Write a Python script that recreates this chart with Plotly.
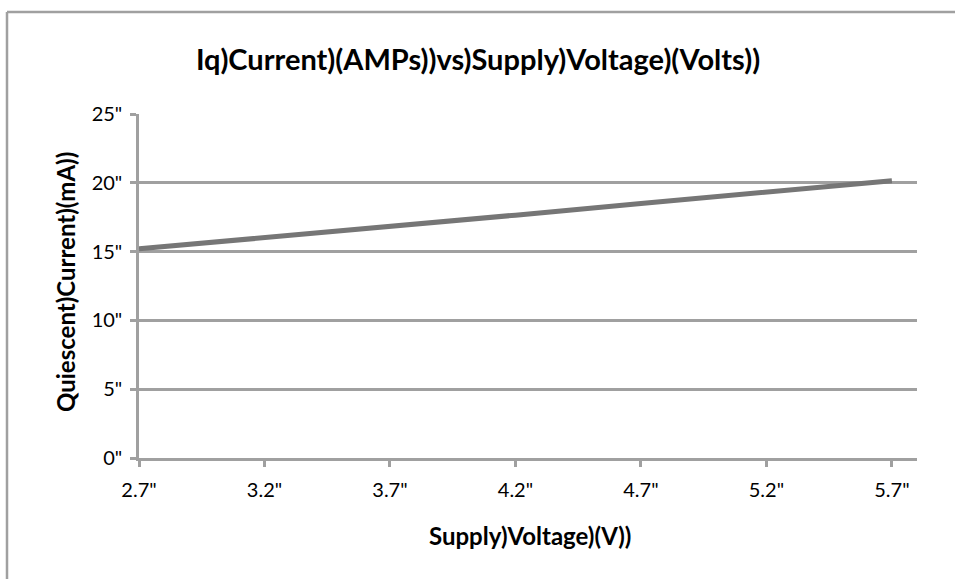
import plotly.graph_objects as go

voltage = [2.7, 3.2, 3.7, 4.2, 4.7, 5.2, 5.7]
current_ma = [15.2, 16.0, 16.85, 17.65, 18.5, 19.3, 20.15]
x_ticks = [2.7, 3.2, 3.7, 4.2, 4.7, 5.2, 5.7]
y_ticks = [0, 5, 10, 15, 20, 25]

title_text = "Iq)Current)(AMPs))vs)Supply)Voltage)(Volts))"
x_title = "Supply)Voltage)(V))"
y_title = "Quiescent)Current)(mA))"

GRID = "#a0a0a0"
FONT = "Lato, 'Open Sans', sans-serif"

W, H = 955, 579
L, R, T, B = 139, 38, 114, 121
PW, PH = W - L - R, H - T - B

fig = go.Figure()
fig.add_trace(go.Scatter(x=voltage, y=current_ma, mode="lines",
                         line=dict(color="#767676", width=5), showlegend=False))

fx = lambda px: (px - L) / PW
fy = lambda py: (H - B - py) / PH

fig.update_layout(
    width=W, height=H,
    margin=dict(l=L, r=R, t=T, b=B),
    paper_bgcolor="white", plot_bgcolor="white",
    font=dict(family=FONT, color="black", size=20),
    title=dict(text=f"<b>{title_text}</b>", x=478 / W, xanchor="center",
               y=1 - 60 / H, yanchor="middle", font=dict(size=29, family=FONT)),
    xaxis=dict(range=[2.7, 5.8], tickvals=x_ticks, ticktext=[f'{v}"' for v in x_ticks],
               showgrid=False, zeroline=False, showline=True, linecolor=GRID, linewidth=2.5,
               ticks="outside", ticklen=6, tickwidth=2.5, tickcolor=GRID,
               ticklabelstandoff=6, tickfont=dict(size=20)),
    yaxis=dict(range=[0, 25], tickvals=y_ticks, ticktext=[f'{v}"' for v in y_ticks],
               showgrid=True, gridcolor=GRID, gridwidth=2.5, zeroline=False,
               showline=True, linecolor=GRID, linewidth=2.5,
               ticks="outside", ticklen=6, tickwidth=2.5, tickcolor=GRID,
               ticklabelstandoff=4, tickfont=dict(size=20)),
    annotations=[
        dict(text=f"<b>{x_title}</b>", xref="paper", yref="paper", x=fx(530), y=fy(535),
             xanchor="center", yanchor="middle", showarrow=False, font=dict(size=24)),
        dict(text=f"<b>{y_title}</b>", xref="paper", yref="paper", x=fx(65), y=fy(282),
             xanchor="center", yanchor="middle", textangle=-90, showarrow=False,
             font=dict(size=24)),
    ],
    shapes=[
        dict(type="line", xref="paper", yref="paper", x0=fx(7), x1=fx(7), y0=fy(12), y1=fy(700),
             line=dict(color=GRID, width=2.5), layer="below"),
        dict(type="line", xref="paper", yref="paper", x0=fx(7), x1=fx(1100), y0=fy(12), y1=fy(12),
             line=dict(color=GRID, width=2.5), layer="below"),
    ],
)

fig.write_html("out.html", config={"displayModeBar": False},
               post_script="document.body.style.margin='0';document.body.style.overflow='hidden';")
